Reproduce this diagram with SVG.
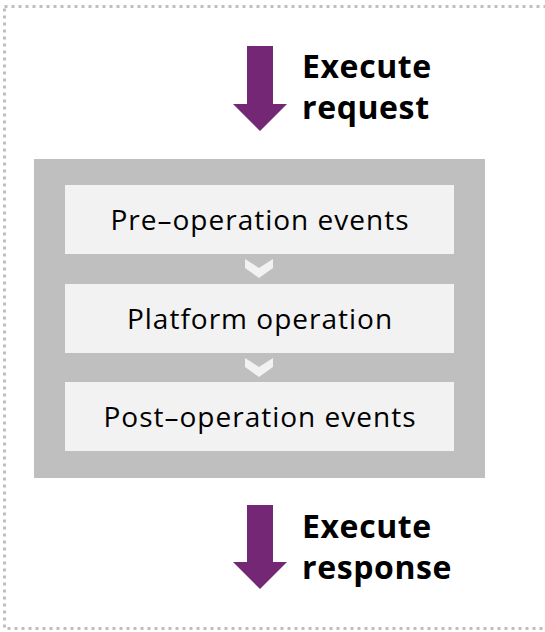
<svg xmlns="http://www.w3.org/2000/svg" width="545" height="632" viewBox="0 0 545 632">
<style>
.border{fill:none;stroke:#bfbfbf;stroke-width:3;stroke-dasharray:3 4}
.outer{fill:#bfbfbf}
.box{fill:#f2f2f2}
.chev{fill:#f2f2f2}
.arrow{fill:#742774}
.lbl{font-family:"Open Sans","Noto Sans",sans-serif;font-size:28px;letter-spacing:1px;fill:#000;text-anchor:middle}
.big{font-family:"Open Sans","Noto Sans",sans-serif;font-size:32px;letter-spacing:0.6px;font-weight:bold;fill:#000}
</style>
<rect class="border" x="4.5" y="6.5" width="560" height="622"/>
<g id="request">
<polygon class="arrow" points="247,46 273,46 273,104 287,104 260,131 233,104 247,104"/>
<text class="big" x="302" y="78">Execute</text>
<text class="big" x="302" y="119">request</text>
</g>
<g id="pipeline">
<rect class="outer" x="34" y="159" width="451" height="319"/>
</g>
<g id="pre">
<rect class="box" x="65" y="185" width="389" height="69"/>
<text class="lbl" x="260" y="230">Pre–operation events</text>
</g>
<g id="platform">
<rect class="box" x="65" y="284" width="389" height="69"/>
<text class="lbl" x="260" y="329">Platform operation</text>
</g>
<g id="post">
<rect class="box" x="65" y="382" width="389" height="69"/>
<text class="lbl" x="260" y="427">Post–operation events</text>
</g>
<g id="connectors">
<polygon class="chev" points="245,259 259,268 273,259 273,268 259,278 245,268"/>
<polygon class="chev" points="245,358 259,367 273,358 273,367 259,377 245,367"/>
</g>
<g id="response">
<polygon class="arrow" points="247,505 273,505 273,562 287,562 260,589 233,562 247,562"/>
<text class="big" x="302" y="538">Execute</text>
<text class="big" x="302" y="579">response</text>
</g>
</svg>
